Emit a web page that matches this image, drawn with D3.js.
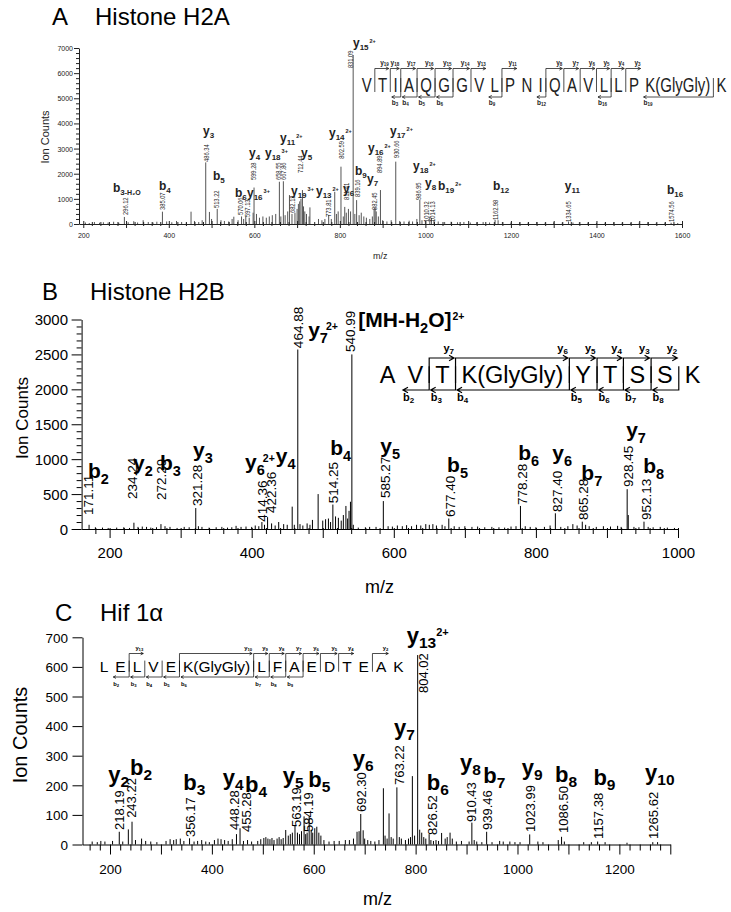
<!DOCTYPE html>
<html><head><meta charset="utf-8">
<script src="https://cdn.jsdelivr.net/npm/d3@7"></script>
<style>body{margin:0;background:#fff}svg{display:block}text{font-family:"Liberation Sans",Arial,sans-serif}</style>
</head><body><svg id="c" width="731" height="912"></svg>
<script>
// ---------------- DATA ----------------
// Panel A: Histone H2A
const titleA = ["A", "Histone H2A"];
const peaksA = [[296.12,280],[385.07,490],[486.34,2450],[513.22,600],[570.06,300],[597.13,450],[599.28,1450],[658.55,1680],[667.86,1700],[682.13,1150],[712.44,1350],[773.81,360],[802.59,2280],[811.41,680],[831.09,6720],[839.16,950],[882.45,640],[894.89,1350],[930.66,2480],[986.95,955],[1010.32,290],[1014.13,240],[1162.98,170],[1334.65,100],[1574.56,50]];
const minorA = [[205,60],[214,40],[226,80],[238,50],[247,70],[258,60],[271,90],[283,50],[305,70],[318,110],[327,60],[340,150],[352,80],[363,60],[372,90],[395,100],[407,70],[418,120],[430,80],[441,60],[452,490],[460,120],[470,80],[478,150],[495,480],[500,200],[522,150],[530,120],[540,100],[548,200],[552,290],[562,150],[575,200],[580,300],[588,250],[605,400],[612,250],[620,300],[628,250],[635,300],[642,350],[650,400],[662,300],[672,350],[678,500],[688,400],[695,450],[700,600],[703,800],[706,900],[709,1000],[715,700],[718,500],[722,400],[728,300],[730,660],[750,200],[758,150],[765,200],[780,200],[788,1280],[792,400],[796,500],[808,300],[815,450],[820,600],[825,500],[835,400],[845,350],[850,450],[856,300],[862,250],[870,200],[876,300],[880,600],[885,500],[890,300],[900,150],[910,100],[920,150],[940,120],[950,100],[962,130],[970,100],[980,200],[992,150],[1000,120],[1020,150],[1030,100],[1045,80],[1060,90],[1075,70],[1090,80],[1105,60],[1120,70],[1135,80],[1150,60],[1170,150],[1180,80],[1200,60],[1220,70],[1240,60],[1260,80],[1280,60],[1300,70],[1320,60],[1345,60],[1360,70],[1380,60],[1400,50],[1420,60],[1440,70],[1460,60],[1480,50],[1500,60],[1520,70],[1540,50],[1560,60],[1590,40]];
// [text, label m/z, label base count]
const valuesA = [["296.12",298.7,358],["385.07",384,557],["486.34",488,2470],["513.22",512,636],["570.06",567,358],["597.13",582.8,278],["599.28",598.5,1750],["658.55",657,1750],["667.86",668.8,1750],["682.13",688,437],["712.44",706.7,2028],["773.81",772.9,278],["802.59",802.1,2600],["811.41",814.3,955],["831.09",824.8,6200],["839.16",840.5,1074],["882.45",880.2,557],["894.89",891.9,2028],["930.66",931.2,2625],["986.95",983.3,955],["1010.32",1003,80],["1014.13",1016.5,80],["1162.98",1162.6,159],["1334.65",1334,80],["1574.56",1575.8,80]];
// [ion, subscript, superscript, m/z, count, tail]
const ionsA = [["b","3","",269.5,1273,"-H\u2082O"],["b","4","",377,1352],["y","3","",480,3540],["b","5","",503.3,1750],["b","6","",554.7,1074],["y","16","3+",582.8,1074],["y","4","",587.5,2665],["y","18","3+",624.9,2665],["y","11","2+",660,3261],["y","5","",709,2665],["y","19","3+",685.7,1153],["y","13","2+",744.1,1153],["y","14","2+",774.5,3460],["y","6","",807.3,1233],["b","9","",835.3,1949],["y","7","",863.4,1631],["y","16","2+",865.7,2864],["y","15","2+",830.6,7040],["y","17","2+",917.2,3540],["y","18","2+",970.9,2148],["y","8","",999,1472],["b","19","2+",1029.4,1352],["b","12","",1158,1352],["y","11","",1326,1352],["b","16","",1564.8,1193]];
const seqA = ["V","T","I","A","Q","G","G","V","L","P","N","I","Q","A","V","L","L","P","K(GlyGly)","K"];
const yIonsA = [19,18,17,16,15,14,13,11,8,7,6,5,4,3];
const bIonsA = [3,4,5,6,9,12,16,19];
const xTicksA = [200,400,600,800,1000,1200,1400,1600];
const yTicksA = [0,1000,2000,3000,4000,5000,6000,7000];

// Panel B: Histone H2B
const titleB = ["B", "Histone H2B"];
const peaksB = [[171.11,60],[234.24,90],[272.29,70],[321.28,300],[414.36,100],[422.36,170],[457,320],[464.88,2570],[493.5,500],[514.25,350],[532.6,330],[540.99,2500],[585.27,400],[677.40,150],[778.28,330],[827.40,225],[865.28,105],[928.45,570],[952.13,105]];
const minorB = [[180,25],[190,20],[198,15],[210,20],[220,25],[228,15],[240,30],[246,35],[252,30],[258,20],[266,25],[278,40],[285,30],[295,15],[305,30],[312,25],[325,40],[330,30],[340,20],[350,25],[358,30],[366,20],[372,25],[378,45],[385,30],[392,35],[400,30],[405,50],[410,40],[418,60],[428,80],[433,50],[438,100],[445,70],[450,60],[460,60],[468,70],[472,50],[478,80],[482,60],[485.5,130],[500,120],[504,140],[508,150],[511,100],[518,180],[522,160],[526,120],[529,200],[535,150],[537,260],[539,390],[543,60],[550,20],[560,25],[566,30],[575,30],[592,40],[598,35],[605,50],[612,40],[618,55],[625,40],[632,60],[638,50],[645,70],[650,60],[655,70],[660,50],[668,60],[672,40],[685,40],[692,30],[700,40],[710,30],[718,35],[728,25],[738,30],[748,25],[756,20],[765,35],[772,40],[785,40],[792,30],[800,25],[812,30],[820,50],[835,30],[845,40],[852,70],[858,50],[870,60],[875,40],[885,30],[895,40],[905,35],[915,45],[920,30],[930,200],[938,30],[945,25],[958,30],[965,25],[975,30],[985,20],[995,15]];
const valuesB = [["171.11",171,200],["234.24",232.3,430],["272.29",273.4,415],["321.28",323.8,330],["414.36",414.7,105],["422.36",427.4,230],["464.88",465.4,2590],["514.25",514.7,370],["540.99",538.6,2535],["585.27",587.9,445],["677.40",679.5,172],["778.28",780.9,344],["827.40",830.2,243],["865.28",866.8,129],["928.45",930.2,600],["952.13",955.5,129]];
const ionsB = [["b","2","",169.6,730],["y","2","",233,845],["b","3","",271,845],["y","3","",317.5,1031],["y","6","2+",390.7,859],["y","4","",434,945],["b","4","",510.5,1060],["y","7","2+",479.5,2750],["[MH-H","2","2+",550,2893,"O]"],["y","5","",581,1088],["b","5","",675,816],["b","6","",775,988],["y","6","",823,988],["b","7","",864,702],["y","7","",927,1317],["b","8","",951,802]];
const seqB = ["A","V","T","K(GlyGly)","Y","T","S","S","K"];
const yIonsB = [7,6,5,4,3,2];
const bIonsB = [2,3,4,5,6,7,8];
const xTicksB = [200,400,600,800,1000];
const yTicksB = [0,500,1000,1500,2000,2500,3000];

// Panel C: Hif 1alpha
const titleC = ["C", "Hif 1\u03b1"];
const peaksC = [[218.19,43],[236,51],[243.22,77],[356.17,21],[448.28,35],[455.28,55],[563.19,66],[584.19,35],[692.30,103],[763.22,193],[804.02,640],[826.52,35],[910.43,74],[939.46,43],[1023.99,34],[1086.50,26],[1157.38,10],[1265.62,8]];
const minorC = [[165,10],[175,8],[182,12],[190,10],[205,12],[225,10],[250,15],[262,20],[270,12],[280,10],[292,8],[310,12],[318,18],[325,15],[330,18],[338,20],[345,12],[365,10],[372,12],[380,15],[388,10],[395,8],[405,15],[412,20],[418,18],[425,15],[432,12],[440,18],[462,12],[470,15],[478,10],[490,12],[496,18],[502,22],[506,25],[510,20],[514,18],[518,22],[522,15],[528,20],[532,25],[536,18],[540,22],[545,49],[550,30],[554,35],[558,40],[568,40],[572,35],[576,45],[581,95],[587,40],[591,95],[595,50],[598,40],[602,55],[606,60],[610,40],[614,30],[620,15],[630,10],[640,12],[650,12],[662,15],[670,15],[678,20],[685,43],[689,45],[697,48],[700,20],[706,15],[712,12],[720,10],[728,15],[736.7,190],[740,30],[744,20],[747.8,105],[752,25],[756,20],[768,25],[772,20],[780,15],[786,20],[790,25],[793.6,231],[798,30],[808,50],[812,40],[816,25],[820,20],[830,15],[835,12],[840,15],[845,12],[851,39],[858,20],[862,25],[867.6,40],[872,20],[880,10],[890,12],[905,10],[915,15],[920,10],[930,8],[950,8],[965,12],[972,10],[985,10],[995,8],[1005,8],[1040,10],[1050,8],[1080,15],[1092,10],[1130,8],[1145,8],[1172,8],[1215,6],[1275,8]];
const valuesC = [["218.19",217.7,49],["243.22",242.2,90],["356.17",359,25],["448.28",443.5,49],["455.28",467,42],["563.19",565.2,59],["584.19",589.8,42],["692.30",692.8,110],["763.22",767.4,201],["804.02",814.6,512],["826.52",832.2,32],["910.43",909.8,76],["939.46",941.2,49],["1023.99",1024.7,42],["1086.50",1089.5,39],["1157.38",1158.2,19],["1265.62",1266.2,19]];
const ionsC = [["y","2","",196.7,212],["b","2","",239.3,235],["b","3","",343.9,184],["y","4","",421.3,201],["b","4","",465,178],["y","5","",539.1,207],["b","5","",589.4,195],["y","6","",676.5,265],["y","7","",757.6,370],["y","13","2+",782.6,680],["b","6","",821.8,184],["y","8","",887.2,252],["b","7","",933,207],["y","9","",1008.4,235],["b","8","",1073.8,212],["b","9","",1149,201],["y","10","",1250.4,218]];
const seqC = ["L","E","L","V","E","K(GlyGly)","L","F","A","E","D","T","E","A","K"];
const yIonsC = [13,10,9,8,7,6,5,4,2];
const bIonsC = [2,3,4,5,6,7,8,9];
const xTicksC = [200,400,600,800,1000,1200];
const yTicksC = [0,100,200,300,400,500,600,700];

// ---------------- LAYOUT ----------------
const svg = d3.select("#c");

const layouts = [
 {title:titleA, peaks:peaksA, minor:minorA, values:valuesA, ions:ionsA, seq:seqA, yI:yIonsA, bI:bIonsA, xT:xTicksA, yT:yTicksA,
  xd:[190,1600], xr:[79,682], yd:[0,7000], yr:[224,48], color:"#555", txt:"#222",
  xMinorStep:20, xMinorFrom:200, xMajorStep:100, xMinorUp:2, xMinorDn:2, xMajorUp:3, xMajorDn:4,
  yMinorStep:200, yMinorLen:3, yMajorLen:5, tickFont:7, xLabY:238, yLabX:73,
  titleY:25, titleX:[52,95], titleFont:24,
  ylab:{x:45,y:137,f:11}, xlab:{x:373,y:259,f:9},
  vlFont:7, vlSx:0.82,
  ionFont:12, ionSub:8, subDy:3, ionSup:5.5, supDy:-7, supDx:1, tailFont:7,
  pep:{font:15, sy:1.3, pad:6.3, x0:358.5, base:92, top:68.5, bot:97, yLab:65, bLab:105, lab:6.5, labSub:4.5, sw:0.8}},
 {title:titleB, peaks:peaksB, minor:minorB, values:valuesB, ions:ionsB, seq:seqB, yI:yIonsB, bI:bIonsB, xT:xTicksB, yT:yTicksB,
  xd:[160.6,1000], xr:[81.6,678], yd:[0,3000], yr:[529,319.5], color:"#000", txt:"#000",
  xMinorStep:20, xMinorFrom:180, xMajorStep:100, xMinorUp:1, xMinorDn:5, xMajorUp:1, xMajorDn:9,
  yMinorStep:100, yMinorLen:5, yMajorLen:10, tickFont:15, xLabY:558, yLabX:68,
  titleY:300, titleX:[42,90], titleFont:24,
  ylab:{x:22,y:418,f:17}, xlab:{x:365,y:593,f:18},
  vlFont:13.5, vlSx:1,
  ionFont:21, ionSub:14.5, subDy:6, ionSup:10.5, supDy:-13, supDx:-2, tailFont:21,
  pep:{font:23.5, sy:1, pad:12, x0:373.8, base:383, top:358, bot:390, yLab:352, bLab:401, lab:11, labSub:8, sw:1.2}},
 {title:titleC, peaks:peaksC, minor:minorC, values:valuesC, ions:ionsC, seq:seqC, yI:yIonsC, bI:bIonsC, xT:xTicksC, yT:yTicksC,
  xd:[146,1300], xr:[82.5,670.3], yd:[0,700], yr:[844.5,637.3], color:"#000", txt:"#000",
  xMinorStep:20, xMinorFrom:160, xMajorStep:100, xMinorUp:0, xMinorDn:6, xMajorUp:0, xMajorDn:10,
  yMinorStep:0, yMinorLen:0, yMajorLen:10, tickFont:13.5, xLabY:874, yLabX:68,
  titleY:621, titleX:[55,100], titleFont:24,
  ylab:{x:20,y:735,f:20}, xlab:{x:363,y:905,f:18},
  vlFont:13, vlSx:1,
  ionFont:22, ionSub:15.5, subDy:5, ionSup:11, supDy:-12, supDx:0, tailFont:22,
  pep:{font:15.5, sy:1, pad:7, x0:96.2, base:671.7, top:653.5, bot:677, yLab:650, bLab:686, lab:5.8, labSub:4.2, sw:0.7}}
];

function drawPeptide(g, seq, yIons, bIons, o, col) {
  const tmp = g.append("text").attr("font-size", o.font);
  const widths = seq.map(r => { tmp.text(r); return tmp.node().getComputedTextLength(); });
  tmp.remove();
  const edges = [o.x0];
  widths.forEach(w => edges.push(edges[edges.length - 1] + w + o.pad));
  seq.forEach((r, i) => {
    g.append("text").attr("text-anchor", "middle").attr("fill", col)
      .attr("transform", `translate(${(edges[i] + edges[i + 1]) / 2},${o.base}) scale(1,${o.sy})`)
      .attr("font-size", o.font).text(r);
  });
  const capTop = o.base - 0.716 * o.font * o.sy;
  const L = seq.length;
  const ah = Math.max(1.5, o.lab * 0.35);
  yIons.forEach(n => {
    const k = L - n, s = edges[k], e = edges[k + 1] - 1.5;
    g.append("path").attr("fill", "none").attr("stroke", col).attr("stroke-width", o.sw)
      .attr("d", `M${s},${o.base} V${o.top} H${e} M${e - ah * 1.3},${o.top - ah * 0.7} L${e},${o.top} L${e - ah * 1.3},${o.top + ah * 0.7}`);
    const t = g.append("text").attr("x", e).attr("y", o.yLab).attr("text-anchor", "end")
      .attr("font-weight", "bold").attr("font-size", o.lab).attr("fill", col);
    t.append("tspan").text("y");
    t.append("tspan").attr("font-size", o.labSub).attr("dy", o.labSub * 0.3).text(n);
  });
  bIons.forEach(n => {
    const s = edges[n], e = edges[n - 1] + 1.5;
    g.append("path").attr("fill", "none").attr("stroke", col).attr("stroke-width", o.sw)
      .attr("d", `M${s},${capTop} V${o.bot} H${e} M${e + ah * 1.3},${o.bot - ah * 0.7} L${e},${o.bot} L${e + ah * 1.3},${o.bot + ah * 0.7}`);
    const t = g.append("text").attr("x", e).attr("y", o.bLab).attr("text-anchor", "start")
      .attr("font-weight", "bold").attr("font-size", o.lab).attr("fill", col);
    t.append("tspan").text("b");
    t.append("tspan").attr("font-size", o.labSub).attr("dy", o.labSub * 0.3).text(n);
  });
}

function drawPanel(c) {
  const g = svg.append("g");
  const x = d3.scaleLinear().domain(c.xd).range(c.xr);
  const y = d3.scaleLinear().domain(c.yd).range(c.yr);
  const y0 = y(0);

  // peaks
  g.append("g").selectAll("line").data(c.minor.concat(c.peaks)).join("line")
    .attr("x1", d => x(d[0])).attr("x2", d => x(d[0]))
    .attr("y1", y0).attr("y2", d => y(d[1]))
    .attr("stroke", c.color).attr("stroke-width", 1);

  // x axis
  const xMinor = d3.range(c.xMinorFrom, c.xd[1] + 0.01, c.xMinorStep).filter(v => v % c.xMajorStep !== 0);
  const xMajor = d3.range(Math.ceil(c.xd[0] / c.xMajorStep) * c.xMajorStep, c.xd[1] + 0.01, c.xMajorStep);
  const gx1 = g.append("g").attr("transform", `translate(0,${y0})`)
    .call(d3.axisBottom(x).tickValues(xMinor).tickSize(c.xMinorDn).tickSizeOuter(0).tickFormat(""));
  gx1.selectAll(".tick line").attr("y1", -c.xMinorUp).attr("stroke", c.txt);
  gx1.select(".domain").attr("stroke", c.txt);
  const gx2 = g.append("g").attr("transform", `translate(0,${y0})`)
    .call(d3.axisBottom(x).tickValues(xMajor).tickSize(c.xMajorDn).tickSizeOuter(0)
      .tickFormat(d => c.xT.includes(d) ? d : ""));
  gx2.select(".domain").remove();
  gx2.selectAll(".tick line").attr("y1", -c.xMajorUp).attr("stroke", c.txt);
  gx2.selectAll(".tick text").attr("y", c.xLabY - y0).attr("dy", null)
    .attr("font-size", c.tickFont).attr("font-family", "Liberation Sans, Arial, sans-serif").attr("fill", c.txt);

  // y axis
  const axX = c.xr[0];
  if (c.yMinorStep) {
    const yMinor = d3.range(0, c.yd[1] + 0.01, c.yMinorStep).filter(v => !c.yT.includes(v));
    const gy1 = g.append("g").attr("transform", `translate(${axX},0)`)
      .call(d3.axisLeft(y).tickValues(yMinor).tickSize(c.yMinorLen).tickSizeOuter(0).tickFormat(""));
    gy1.select(".domain").remove();
    gy1.selectAll(".tick line").attr("stroke", c.txt);
  }
  const gy2 = g.append("g").attr("transform", `translate(${axX},0)`)
    .call(d3.axisLeft(y).tickValues(c.yT).tickSize(c.yMajorLen).tickSizeOuter(0).tickFormat(d => d));
  gy2.select(".domain").attr("stroke", c.txt);
  gy2.selectAll(".tick line").attr("stroke", c.txt);
  gy2.selectAll(".tick text").attr("x", c.yLabX - axX).attr("dy", "0.35em")
    .attr("font-size", c.tickFont).attr("font-family", "Liberation Sans, Arial, sans-serif").attr("fill", c.txt);

  // rotated m/z values
  g.append("g").selectAll("text").data(c.values).join("text")
    .attr("transform", d => `translate(${x(d[1])},${y(d[2])}) rotate(-90) scale(${c.vlSx},1)`)
    .attr("dominant-baseline", "central").attr("font-size", c.vlFont).attr("fill", c.txt)
    .text(d => d[0]);

  // ion labels
  g.append("g").selectAll("text").data(c.ions).join("text")
    .attr("x", d => x(d[3])).attr("y", d => y(d[4]))
    .attr("font-weight", "bold").attr("font-size", c.ionFont).attr("fill", c.txt)
    .each(function (d) {
      const t = d3.select(this);
      t.append("tspan").text(d[0]);
      t.append("tspan").attr("font-size", c.ionSub).attr("dy", c.subDy).text(d[1]);
      let back = c.subDy;
      if (d[5]) {
        if (c.tailFont === c.ionFont) {
          t.append("tspan").attr("font-size", c.tailFont).attr("dy", -c.subDy).text(d[5]);
          back = 0;
        } else {
          t.append("tspan").attr("font-size", c.tailFont).attr("font-weight", "bold").text(d[5]);
        }
      }
      if (d[2]) t.append("tspan").attr("font-size", c.ionSup).attr("dx", d[5] ? 1 : c.supDx)
        .attr("dy", c.supDy + (c.subDy - back)).text(d[2]);
    });

  // titles
  g.append("text").attr("x", c.titleX[0]).attr("y", c.titleY).attr("font-size", c.titleFont).attr("fill", "#000").text(c.title[0]);
  g.append("text").attr("x", c.titleX[1]).attr("y", c.titleY).attr("font-size", c.titleFont).attr("fill", "#000").text(c.title[1]);
  g.append("text").attr("transform", `translate(${c.ylab.x},${c.ylab.y}) rotate(-90)`)
    .attr("text-anchor", "middle").attr("dominant-baseline", "central")
    .attr("font-size", c.ylab.f).attr("fill", c.txt).text("Ion Counts");
  g.append("text").attr("x", c.xlab.x).attr("y", c.xlab.y).attr("font-size", c.xlab.f).attr("fill", c.txt).text("m/z");

  drawPeptide(g.append("g"), c.seq, c.yI, c.bI, c.pep, c.txt);
}

layouts.forEach(drawPanel);
</script></body></html>
